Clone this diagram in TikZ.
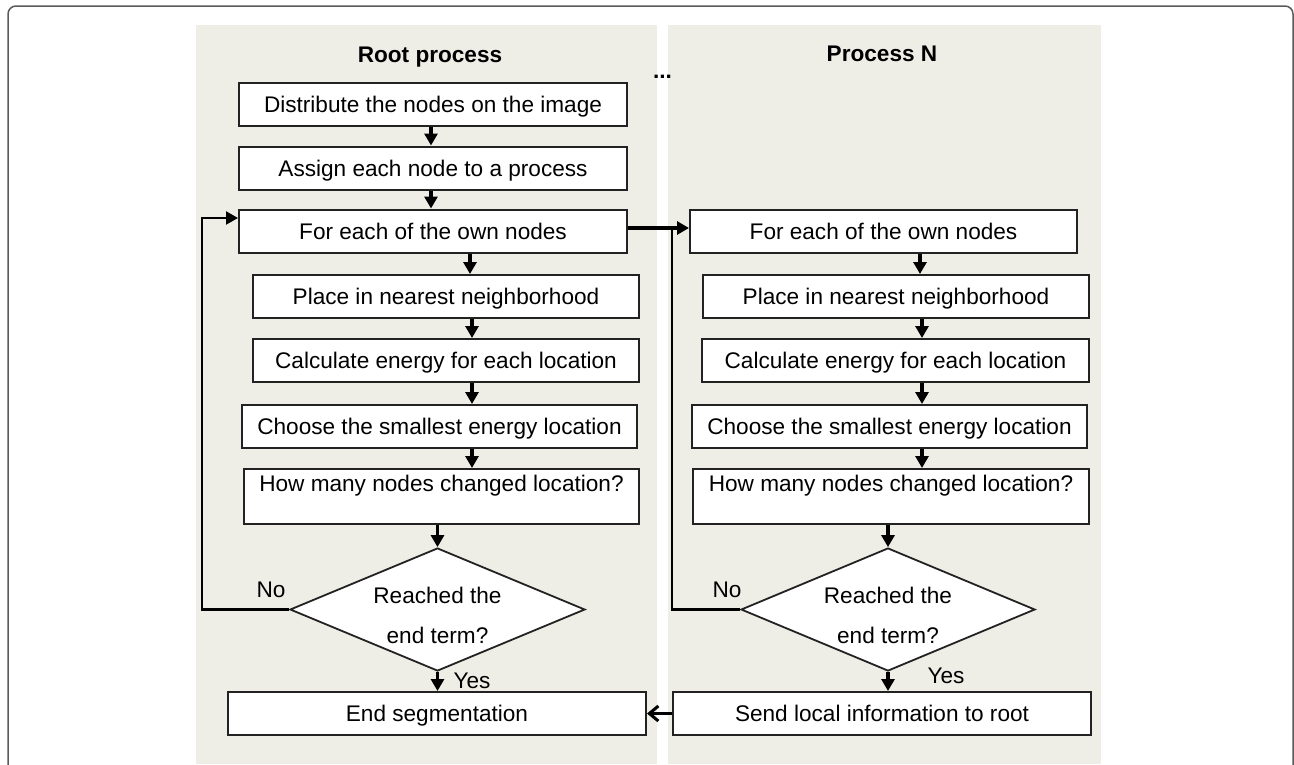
\documentclass[tikz,border=0pt]{standalone}
\usepackage{fontspec}
\setmainfont{Liberation Sans}
\usetikzlibrary{arrows.meta,shapes.geometric,calc}
\definecolor{panel}{RGB}{239,238,230}
\definecolor{framec}{RGB}{90,90,90}
\definecolor{edge}{RGB}{34,34,34}
\newcommand{\dstrut}{\rule{0pt}{27.5pt}}
\begin{document}
\begin{tikzpicture}[x=1pt,y=-1pt,
  txt/.style={font=\fontsize{22.6}{40}\selectfont},
  box/.style={draw=edge, line width=2pt, fill=white, inner xsep=0pt, inner ysep=0pt, text height=29.6pt, text depth=13.4pt, txt},
  tallbox/.style={box, text height=22pt, text depth=33pt},
  dec/.style={shape=diamond, aspect=2.4, draw=edge, line width=1.8pt, fill=white, inner sep=0pt, minimum width=295pt, minimum height=123pt, align=center, txt},
  arr/.style={line width=3.2pt, -{Triangle[length=12pt,width=13pt]}},
  loopline/.style={line width=2.2pt},
  lbl/.style={txt, inner sep=0pt},
  ttl/.style={font=\fontsize{22.6}{27}\selectfont\bfseries, inner sep=0pt, anchor=base},
]
\useasboundingbox (0,0) rectangle (1294,764);
\fill[panel] (196,25) rectangle (657,764);
\fill[panel] (668,25) rectangle (1101,764);
\draw[framec, line width=1.5pt, rounded corners=8pt] (8,770) -- (8,6) -- (1293,6) -- (1293,770);

\node[ttl] (tL) at (430,62) {Root process};
\node[ttl] (tR) at (882,61) {Process N};
\node[ttl] (dots) at (662.5,78) {...};

% left column
\node[box, minimum width=388pt] (dist) at (433,104) {Distribute the nodes on the image};
\node[box, minimum width=388pt] (assign) at (433,168) {Assign each node to a process};
\node[box, minimum width=388pt] (forL) at (433,231) {For each of the own nodes};
\node[box, minimum width=386pt] (placeL) at (446,296.5) {Place in nearest neighborhood};
\node[box, minimum width=386pt] (calcL) at (446,360.5) {Calculate energy for each location};
\node[box, minimum width=395pt] (chooseL) at (439.5,426.5) {Choose the smallest energy location};
\node[tallbox, minimum width=395pt] (howL) at (441.5,496.5) {How many nodes changed location?};
\node[dec] (decL) at (437.5,609.5) {\dstrut Reached the\\end term?};
\node[box, minimum width=418pt] (endL) at (437,713.5) {End segmentation};

% right column
\node[box, minimum width=387pt] (forR) at (883.5,231.5) {For each of the own nodes};
\node[box, minimum width=386pt] (placeR) at (896,296.5) {Place in nearest neighborhood};
\node[box, minimum width=387pt] (calcR) at (895.5,360.5) {Calculate energy for each location};
\node[box, minimum width=395pt] (chooseR) at (889.5,426.5) {Choose the smallest energy location};
\node[tallbox, minimum width=396pt] (howR) at (891,496.5) {How many nodes changed location?};
\node[dec, minimum width=294pt] (decR) at (888,609.5) {\dstrut Reached the\\end term?};
\node[box, minimum width=418pt] (send) at (882,713.5) {Send local information to root};

% left arrows
\draw[arr] ($(dist.south)+(-2,0)$) -- ($(assign.north)+(-2,0)$);
\draw[arr] ($(assign.south)+(-2,0)$) -- ($(forL.north)+(-2,0)$);
\draw[arr] ($(forL.south)+(37,0)$) -- ($(placeL.north)+(24,0)$);
\draw[arr] ($(placeL.south)+(26,0)$) -- ($(calcL.north)+(26,0)$);
\draw[arr] ($(calcL.south)+(26,0)$) -- ($(chooseL.north)+(32.5,0)$);
\draw[arr] ($(chooseL.south)+(32.5,0)$) -- ($(howL.north)+(30.5,0)$);
\draw[arr] (decL.north |- howL.south) -- (decL.north);
\draw[arr] (decL.south) -- (decL.south |- endL.north);

% right arrows
\draw[arr] ($(forR.south)+(36.5,0)$) -- ($(placeR.north)+(24,0)$);
\draw[arr] ($(placeR.south)+(26,0)$) -- ($(calcR.north)+(26.5,0)$);
\draw[arr] ($(calcR.south)+(26.5,0)$) -- ($(chooseR.north)+(32.5,0)$);
\draw[arr] ($(chooseR.south)+(32.5,0)$) -- ($(howR.north)+(31,0)$);
\draw[arr] (decR.north |- howR.south) -- (decR.north);
\draw[arr] (decR.south) -- (decR.south |- send.north);

% loops and cross links
\draw[loopline, -{Triangle[length=12pt,width=13pt]}] (decL.west) -- ++(-87,0) |- ($(forL.west)+(0,-13)$);
\draw[arr] ($(forL.east)+(0,-3)$) -- ($(forR.west)+(0,-3.5)$);
\draw[loopline] (decR.west) -| ($(forR.west)+(-17,-3.5)$);
\draw[line width=3pt, -{Straight Barb[length=9pt,width=15pt]}] (send.west) -- (endL.east);

% labels
\node[lbl] (noL) at (271,590) {No};
\node[lbl] (yesL) at (472,681) {Yes};
\node[lbl] (noR) at (727,590) {No};
\node[lbl] (yesR) at (946,676) {Yes};
\end{tikzpicture}
\end{document}
